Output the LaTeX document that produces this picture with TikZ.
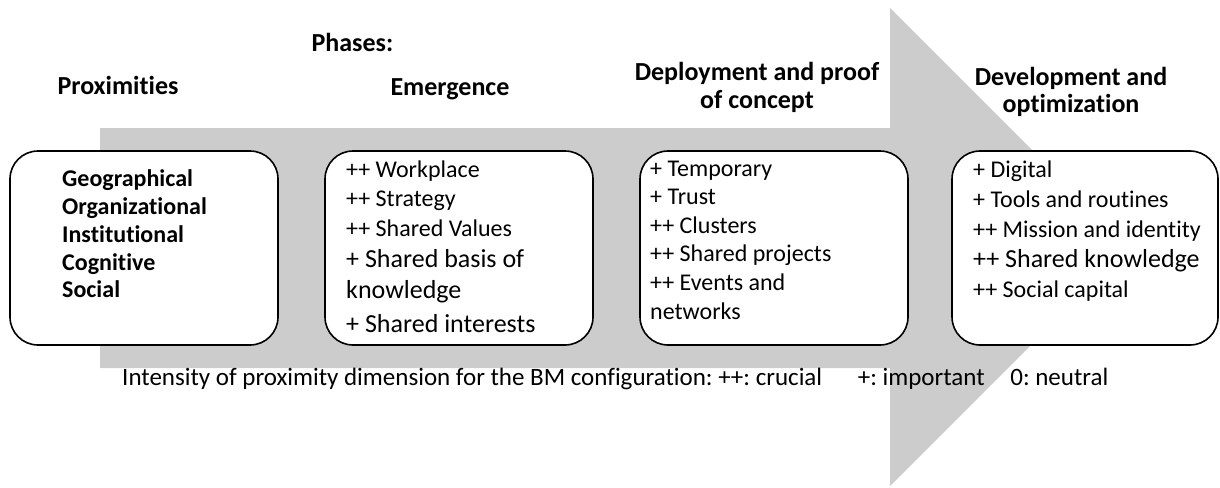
\documentclass[tikz,border=0pt]{standalone}
\usepackage{fontspec}
\setmainfont{Carlito}[Ligatures=NoCommon]
\usetikzlibrary{positioning}
\frenchspacing

\begin{document}
\begin{tikzpicture}[x=1pt, y=-1pt, line join=round]
\tikzset{phasebox/.style={draw, line width=1.6pt, rounded corners=28pt, fill=white, minimum width=268pt, minimum height=194pt, inner sep=0pt}, head/.style={font=\fontsize{26}{26}\selectfont\bfseries, anchor=base}, item/.style={anchor=base west, inner sep=0pt}}
\useasboundingbox (0,0) rectangle (1220,487);

% big arrow (phases)
\fill[gray!40] (100,128) -- (890,128) -- (890,8) -- (1129,247) -- (890,486) -- (890,368) -- (100,368) -- cycle;

% headers
\node[head] (proxh) at (118,94) {Proximities};
\node[head, anchor=base west] (phases) at (308,52) {Phases:};
\node[head] (emerh) at (450,95) {Emergence};
\node[head] (deplh1) at (757,81) {Deployment and proof};
\node[head] (deplh2) at (757,108) {of concept};
\node[head] (devh1) at (1071,85) {Development and};
\node[head] (devh2) at (1071,112) {optimization};

% boxes
\node[phasebox] (prox) at (144,248) {};
\node[phasebox] (emer) at (459,248) {};
\node[phasebox] (depl) at (774,248) {};
\node[phasebox, minimum width=266pt] (dev) at (1085,248) {};

% box contents (baseline / size / text)
\foreach \y/\t [count=\i] in {186/Geographical, 214/Organizational, 242/Institutional, 270/Cognitive, 297/Social}
  \node[item, font=\fontsize{24}{24}\selectfont\bfseries] (prox-\i) at (62,\y) {\t};
\foreach \y/\s/\t [count=\i] in {177/24/{++ Workplace}, 206/24/{++ Strategy}, 236/24/{++ Shared Values}, 267/26/{+ Shared basis of}, 298/26/{knowledge}, 332/26/{+ Shared interests}}
  \node[item, font=\fontsize{\s}{\s}\selectfont] (emer-\i) at (346,\y) {\t};
\foreach \y/\s/\t [count=\i] in {176/24/{+ Temporary}, 204/24/{+ Trust}, 233/24/{++ Clusters}, 261/24/{++ Shared projects}, 290/24/{++ Events and}, 319/24/{networks}}
  \node[item, font=\fontsize{\s}{\s}\selectfont] (depl-\i) at (650,\y) {\t};
\foreach \y/\s/\t [count=\i] in {177/24/{+ Digital}, 207/24/{+ Tools and routines}, 237/24/{++ Mission and identity}, 267/26/{++ Shared knowledge}, 297/24/{++ Social capital}}
  \node[item, font=\fontsize{\s}{\s}\selectfont] (dev-\i) at (973,\y) {\t};

% legend
\node[item, font=\fontsize{25}{25}\selectfont] (legend) at (122,385) {Intensity of proximity dimension for the BM configuration: ++: crucial\hspace{30pt} +: important\hspace{20pt} 0: neutral};
\end{tikzpicture}
\end{document}
